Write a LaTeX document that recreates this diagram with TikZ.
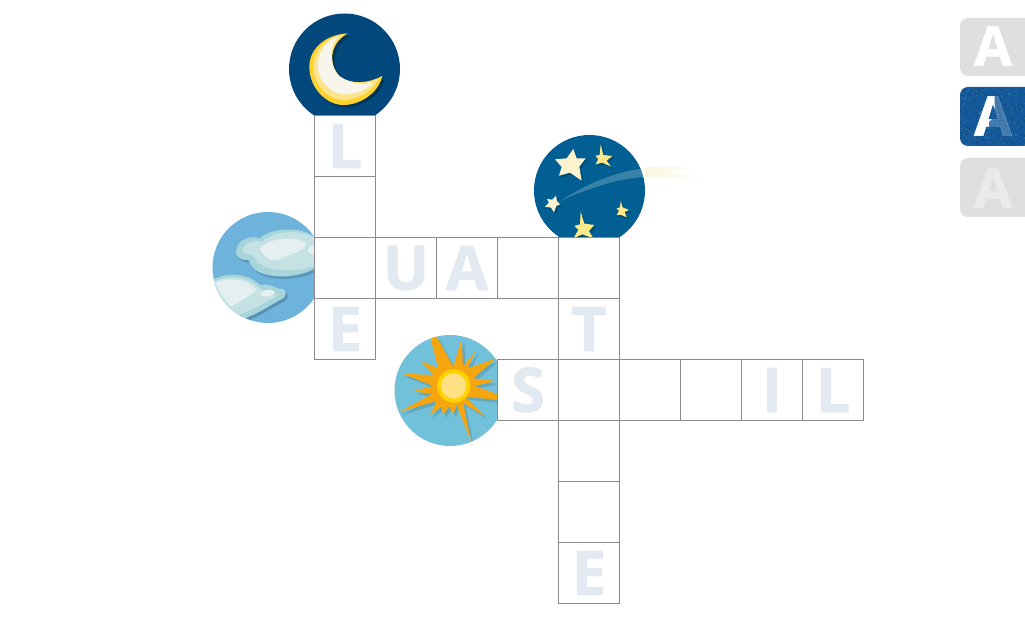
\documentclass[tikz,border=0pt]{standalone}
\usepackage{fontspec}
\setmainfont{Liberation Sans}
\newfontfamily\heavyfont[FakeBold=1.2]{Open Sans}
\usetikzlibrary{fadings}
\definecolor{cellline}{HTML}{8C8A8C}
\definecolor{ghost}{HTML}{E3E9F0}
\definecolor{moonbg}{HTML}{03487C}
\definecolor{starbg}{HTML}{015F93}
\definecolor{cloudbg}{HTML}{6DB3DC}
\definecolor{sunbg}{HTML}{72C1DA}
\definecolor{rayc}{HTML}{F5A60F}
\definecolor{btn}{HTML}{E0DFDF}
\definecolor{btnblue}{HTML}{14599A}
\definecolor{starcream}{HTML}{FBF3CE}
\definecolor{staryel}{HTML}{FBE88A}
\definecolor{moonA}{HTML}{FFD22E}
\definecolor{moonB}{HTML}{FBE48C}
\definecolor{moonC}{HTML}{F8F6EC}
\definecolor{cloudA}{HTML}{A8D5DA}
\definecolor{cloudB}{HTML}{C4E1E4}
\definecolor{cloudC}{HTML}{E6EFF0}
\definecolor{sunA}{HTML}{FFD200}
\definecolor{sunB}{HTML}{FDE183}
\definecolor{trail}{HTML}{FAF6DE}
\tikzfading[name=fadeRight,left color=transparent!0,right color=transparent!100]
\tikzset{
  cell/.style={draw=cellline,line width=.75pt,rectangle,minimum size=45.75pt,inner sep=0pt,outer sep=0pt,
    text=ghost,font=\heavyfont\fontsize{46}{46}\selectfont\bfseries},
  btnletter/.style={inner sep=0pt,outer sep=0pt,font=\heavyfont\fontsize{41}{41}\selectfont\bfseries},
}
\newcommand{\raypath}{(136,38)--(155,35)--(205,125)--(230,40)--(234,125)--(272,78)--(248,130)--(333,100)--(265,160)--(333,168)--(268,183)--(337,207)--(337,225)--(240,215)--(298,273)--(235,235)--(258,350)--(215,240)--(205,268)--(192,245)--(175,270)--(168,245)--(135,272)--(155,228)--(40,262)--(140,208)--(85,198)--(145,183)--(52,146)--(145,150)--(108,108)--(160,130)--cycle}
\newcommand{\moonouter}{(203,100) .. controls (130,105) and (88,150) .. (88,200) .. controls (88,265) and (140,315) .. (190,315) .. controls (240,315) and (295,280) .. (307,228) .. controls (265,250) and (215,255) .. (180,230) .. controls (155,210) and (135,140) .. cycle}
\begin{document}
\begin{tikzpicture}[x=.75pt,y=-.75pt]
\useasboundingbox (0,0) rectangle (1025,630);
\fill[white] (0,0) rectangle (1025,630);
% moon
\begin{scope}
\clip (280,0) rectangle (410,116);
\fill[moonbg] (344.5,69) circle[radius=55.5];
\begin{scope}[shift={(280,0)},scale=1/3]
\begin{scope}[shift={(7,8)}]
\fill[black,fill opacity=.25] \moonouter;
\end{scope}
\fill[moonA] \moonouter;
\fill[moonB] (195,102) .. controls (135,110) and (100,155) .. (100,200) .. controls (100,255) and (145,300) .. (192,300) .. controls (235,300) and (280,272) .. (298,235) .. controls (265,250) and (215,255) .. (180,230) .. controls (155,210) and (135,140) .. cycle;
\fill[moonC] (175,110) .. controls (135,122) and (113,160) .. (113,198) .. controls (113,242) and (152,283) .. (195,283) .. controls (230,283) and (262,268) .. (282,247) .. controls (255,255) and (215,255) .. (180,230) .. controls (155,210) and (138,145) .. cycle;
\end{scope}
\end{scope}
% stars
\begin{scope}
\clip (525,125) rectangle (650,237);
\fill[starbg] (589.5,190.5) circle[radius=55.5];
\begin{scope}[shift={(525,125)},scale=1/3]
\begin{scope}[shift={(5,6)}]
\fill[black,fill opacity=.2] (145,72)--(155,100)--(182,100)--(163,125)--(170,167)--(135,143)--(102,152)--(110,126)--(90,103)--(125,100)--cycle;
\fill[black,fill opacity=.2] (227,58)--(235,90)--(262,93)--(245,107)--(258,125)--(232,113)--(212,118)--(220,102)--(211,92)--(224,90)--cycle;
\fill[black,fill opacity=.2] (93,212)--(96,228)--(105,238)--(94,243)--(87,262)--(78,248)--(60,245)--(72,233)--(66,222)--(82,224)--cycle;
\fill[black,fill opacity=.2] (287,228)--(293,247)--(312,255)--(299,261)--(305,277)--(289,270)--(275,270)--(282,258)--(275,250)--(285,247)--cycle;
\fill[black,fill opacity=.2] (167,260)--(178,296)--(208,300)--(192,318)--(205,340)--(172,328)--(145,340)--(160,315)--(148,303)--(165,298)--cycle;
\end{scope}
\fill[starcream] (145,72)--(155,100)--(182,100)--(163,125)--(170,167)--(135,143)--(102,152)--(110,126)--(90,103)--(125,100)--cycle;
\fill[staryel] (227,58)--(235,90)--(262,93)--(245,107)--(258,125)--(232,113)--(212,118)--(220,102)--(211,92)--(224,90)--cycle;
\fill[starcream] (93,212)--(96,228)--(105,238)--(94,243)--(87,262)--(78,248)--(60,245)--(72,233)--(66,222)--(82,224)--cycle;
\fill[staryel] (287,228)--(293,247)--(312,255)--(299,261)--(305,277)--(289,270)--(275,270)--(282,258)--(275,250)--(285,247)--cycle;
\fill[staryel] (167,260)--(178,296)--(208,300)--(192,318)--(205,340)--(172,328)--(145,340)--(160,315)--(148,303)--(165,298)--cycle;
\fill[white,fill opacity=.22] (105,228) .. controls (180,180) and (270,140) .. (355,130) -- (358,156) .. controls (280,160) and (190,190) .. cycle;
\end{scope}
\end{scope}
\begin{scope}[shift={(525,125)},scale=1/3]
\fill[trail,path fading=fadeRight] (358,128) .. controls (400,122) and (460,125) .. (500,128) .. controls (470,132) and (440,136) .. (430,140) .. controls (470,145) and (520,155) .. (548,165) .. controls (480,158) and (420,156) .. (358,157) -- cycle;
\end{scope}
% clouds
\begin{scope}
\clip (205,205) rectangle (314,330);
\fill[cloudbg] (268,267.5) circle[radius=55.5];
\clip (268,267.5) circle[radius=55.5];
\begin{scope}[shift={(205,205)},scale=1/3]
\begin{scope}[shift={(6,8)}]
\fill[black,fill opacity=.15] (93,140) .. controls (95,105) and (135,90) .. (165,100) .. controls (190,72) and (270,65) .. (310,85) -- (340,100) -- (340,183) .. controls (300,215) and (210,225) .. (160,200) .. controls (140,190) and (135,170) .. (130,165) .. controls (110,168) and (93,155) .. cycle;
\fill[black,fill opacity=.18] (20,225) .. controls (70,200) and (130,205) .. (165,240) .. controls (190,235) and (210,245) .. (222,252) .. controls (245,245) and (252,275) .. (225,285) .. controls (195,300) and (170,320) .. (120,340) -- (20,320) -- cycle;
\end{scope}
\fill[cloudA] (93,140) .. controls (95,105) and (135,90) .. (165,100) .. controls (190,72) and (270,65) .. (310,85) -- (340,100) -- (340,183) .. controls (300,215) and (210,225) .. (160,200) .. controls (140,190) and (135,170) .. (130,165) .. controls (110,168) and (93,155) .. cycle;
\fill[cloudB] (112,135) .. controls (120,112) and (150,105) .. (172,110) .. controls (195,82) and (270,72) .. (315,92) -- (340,105) -- (340,175) .. controls (300,200) and (220,205) .. (170,180) .. controls (150,168) and (148,150) .. (135,148) .. controls (125,150) and (115,145) .. cycle;
\fill[cloudC] (165,130) .. controls (190,100) and (270,90) .. (305,115) .. controls (305,130) and (280,140) .. (265,145) .. controls (240,155) and (220,170) .. (195,165) .. controls (180,155) and (170,145) .. cycle;
\fill[cloudC] (307,135) .. controls (315,120) and (330,118) .. (340,125) -- (340,150) .. controls (325,150) and (310,147) .. cycle;
\fill[cloudA] (20,225) .. controls (70,200) and (130,205) .. (165,240) .. controls (190,235) and (210,245) .. (222,252) .. controls (245,245) and (252,275) .. (225,285) .. controls (195,300) and (170,320) .. (120,340) -- (20,320) -- cycle;
\fill[cloudB] (25,230) .. controls (70,210) and (128,212) .. (162,248) .. controls (175,262) and (205,272) .. (225,268) .. controls (195,285) and (155,310) .. (105,328) -- (20,320) -- cycle;
\fill[cloudC] (30,232) .. controls (70,218) and (125,218) .. (155,255) .. controls (140,270) and (110,285) .. (80,305) .. controls (60,290) and (40,255) .. cycle;
\fill[cloudC] (165,268) .. controls (170,252) and (200,250) .. (212,262) .. controls (200,275) and (180,282) .. (165,268) -- cycle;
\end{scope}
\end{scope}
% sun
\begin{scope}
\clip (385,325) rectangle (497,450);
\fill[sunbg] (450,390.5) circle[radius=55.5];
\clip (450,390.5) circle[radius=55.5];
\begin{scope}[shift={(385,325)},scale=1/3]
\begin{scope}[shift={(8,9)}]
\fill[black,fill opacity=.13] \raypath;
\end{scope}
\fill[rayc] \raypath;
\fill[sunA] (206,183) circle[radius=50];
\fill[sunB] (206,183) circle[radius=38];
\end{scope}
\end{scope}
% crossword cells
\begin{scope}[shift={(.5,.5)}]
\node[cell] (l1) at (344.5,145.5) {L};
\node[cell] (l2) at (344.5,206.5) {};
\node[cell] (l3) at (344.5,267.5) {};
\node[cell] (l4) at (344.5,328.5) {E};
\node[cell] (u1) at (405.5,267.5) {U};
\node[cell] (u2) at (466.5,267.5) {A};
\node[cell] (u3) at (527.5,267.5) {};
\node[cell] (u4) at (588.5,267.5) {};
\node[cell] (t1) at (588.5,328.5) {T};
\node[cell] (t2) at (588.5,389.5) {};
\node[cell] (t3) at (588.5,450.5) {};
\node[cell] (t4) at (588.5,511.5) {};
\node[cell] (t5) at (588.5,572.5) {E};
\node[cell] (s1) at (527.5,389.5) {S};
\node[cell] (s2) at (649.5,389.5) {};
\node[cell] (s3) at (710.5,389.5) {};
\node[cell] (s4) at (771.5,389.5) {I};
\node[cell] (s5) at (832.5,389.5) {L};
\end{scope}
% buttons
\fill[btn,rounded corners=6pt] (960,18) rectangle (1040,76);
\node[btnletter,text=white] (b1) at (993,46) {A};
\fill[btnblue,rounded corners=6pt] (960,87) rectangle (1040,146);
\begin{scope}
\clip[rounded corners=6pt] (960,87) rectangle (1040,146);
\pgfmathsetseed{42}
\foreach \i in {1,...,500}{
  \pgfmathsetmacro{\px}{960+65*rnd}
  \pgfmathsetmacro{\py}{87+59*rnd}
  \pgfmathtruncatemacro{\mx}{rnd*2}
  \ifnum\mx=0\relax
    \fill[black,fill opacity=.14] (\px,\py) rectangle ++(1.2,1.2);
  \else
    \fill[white,fill opacity=.08] (\px,\py) rectangle ++(1.2,1.2);
  \fi
}
\end{scope}
\node[btnletter,text=white,text opacity=.2] (b2) at (993,116) {A};
\begin{scope}
\clip (960,87) -- (994.5,87) -- (994.5,116) -- (989,122) -- (988,146) -- (960,146) -- cycle;
\node[btnletter,text=white] (b2s) at (993,116) {A};
\end{scope}
\fill[btn,rounded corners=6pt] (960,158) rectangle (1040,217);
\node[btnletter,text=white!35!btn] (b3) at (993,188) {A};
\end{tikzpicture}
\end{document}
